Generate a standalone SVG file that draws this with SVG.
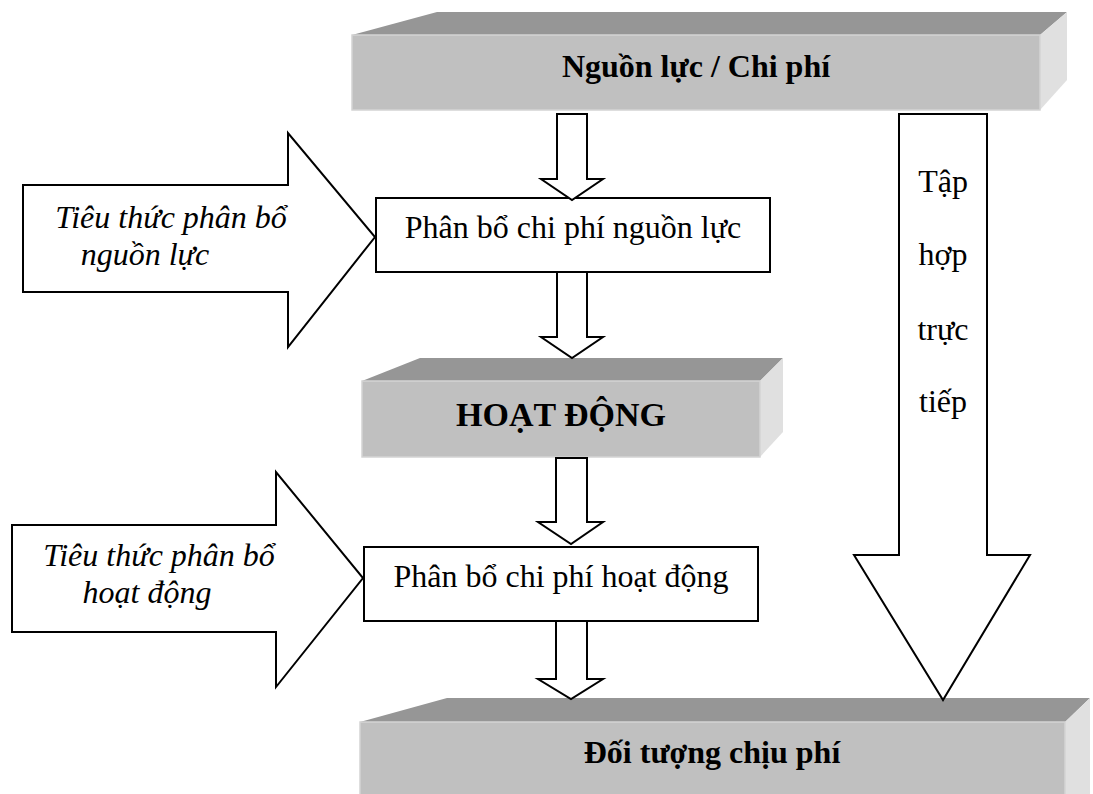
<svg xmlns="http://www.w3.org/2000/svg" width="1093" height="794" viewBox="0 0 1093 794">
  <style>
    .top { fill: #969696; }
    .front { fill: #c0c0c0; stroke: #d4d4d4; stroke-width: 1.5; }
    .side { fill: #e0e0e0; }
    .shape { fill: #ffffff; stroke: #000000; stroke-width: 2; stroke-linejoin: miter; }
    .title { font-family: "Liberation Serif", "Times New Roman", serif; font-weight: bold; fill: #000; text-anchor: middle; }
    .label { font-family: "Liberation Serif", "Times New Roman", serif; font-size: 32px; fill: #000; text-anchor: middle; }
    .ital { font-style: italic; }
  </style>

  <!-- 3D block: resources / costs -->
  <g id="nguon-luc">
    <polygon class="top" points="352,35 437,12 1067,12 1040,35"/>
    <polygon class="side" points="1040,35 1067,12 1067,80 1040,110"/>
    <rect class="front" x="352" y="35" width="688" height="75"/>
    <text class="title" x="696" y="77" font-size="32">Nguồn lực / Chi phí</text>
  </g>

  <!-- allocation of resource costs -->
  <g id="phan-bo-nguon-luc">
    <rect class="shape" x="376" y="198" width="394" height="74"/>
    <text class="label" x="573" y="238">Phân bổ chi phí nguồn lực</text>
  </g>

  <!-- 3D block: activities -->
  <g id="hoat-dong">
    <polygon class="top" points="362,381 420,358 783,358 760,381"/>
    <polygon class="side" points="760,381 783,358 783,432 760,457"/>
    <rect class="front" x="362" y="381" width="398" height="76"/>
    <text class="title" x="561" y="426" font-size="34">HOẠT ĐỘNG</text>
  </g>

  <!-- allocation of activity costs -->
  <g id="phan-bo-hoat-dong">
    <rect class="shape" x="364" y="547" width="394" height="74"/>
    <text class="label" x="561" y="587">Phân bổ chi phí hoạt động</text>
  </g>

  <!-- 3D block: cost objects -->
  <g id="doi-tuong">
    <polygon class="top" points="360,722 447,698 1090,698 1065,722"/>
    <polygon class="side" points="1065,722 1090,698 1090,794 1065,794"/>
    <rect class="front" x="360" y="722" width="705" height="80"/>
    <text class="title" x="712" y="763" font-size="32">Đối tượng chịu phí</text>
  </g>

  <!-- allocation basis arrows -->
  <g id="tieu-thuc-nguon-luc">
    <polygon class="shape" points="23,185 288,185 288,133 375,237 288,347 288,292 23,292"/>
    <text class="label ital" x="171" y="228">Tiêu thức phân bổ</text>
    <text class="label ital" x="145" y="265">nguồn lực</text>
  </g>

  <g id="tieu-thuc-hoat-dong">
    <polygon class="shape" points="12,525 276,525 276,472 363,578 276,687 276,632 12,632"/>
    <text class="label ital" x="159" y="566">Tiêu thức phân bổ</text>
    <text class="label ital" x="147" y="603">hoạt động</text>
  </g>

  <!-- direct assignment arrow -->
  <g id="tap-hop-truc-tiep">
    <polygon class="shape" points="899,114 987,114 987,555 1030,555 943,700 854,555 899,555"/>
    <text class="label" x="943" y="192" font-size="31">Tập</text>
    <text class="label" x="943" y="265" font-size="31">hợp</text>
    <text class="label" x="943" y="340" font-size="31">trực</text>
    <text class="label" x="943" y="412" font-size="31">tiếp</text>
  </g>

  <!-- flow connectors -->
  <g id="connectors">
    <polygon class="shape" points="557,114 587,114 587,179 603,179 572,200 541,179 557,179"/>
    <polygon class="shape" points="557,272 587,272 587,337 603,337 572,358 541,337 557,337"/>
    <polygon class="shape" points="556,458 587,458 587,522 603,522 571,544 538,522 556,522"/>
    <polygon class="shape" points="556,621 587,621 587,679 603,679 571,699 538,679 556,679"/>
  </g>
</svg>
